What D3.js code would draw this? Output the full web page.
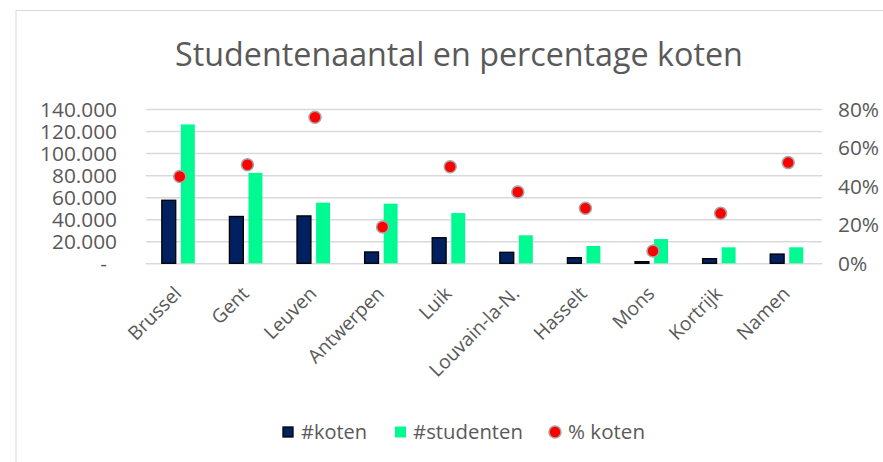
<!DOCTYPE html>
<html><head><meta charset="utf-8">
<script src="https://cdn.jsdelivr.net/npm/d3@7"></script>
<style>body{margin:0;background:#fff}svg{display:block}text{font-family:"Open Sans","Noto Sans",sans-serif;fill:#595959}</style>
</head><body><svg id="c" width="883" height="462"></svg>
<script>
const categories = ["Brussel","Gent","Leuven","Antwerpen","Luik","Louvain-la-N.","Hasselt","Mons","Kortrijk","Namen"];
const koten = [57200, 42500, 43000, 10300, 23200, 10000, 5100, 1500, 4200, 8400];
const studenten = [126000, 82000, 55000, 54100, 45600, 25400, 15700, 22000, 14500, 14500];
const pctKoten = [0.45, 0.511, 0.757, 0.188, 0.501, 0.37, 0.285, 0.064, 0.259, 0.522];
const leftTicks = [0, 20000, 40000, 60000, 80000, 100000, 120000, 140000];
const rightTicks = [0, 0.2, 0.4, 0.6, 0.8];
const seriesNames = ["#koten", "#studenten", "% koten"];

const svg = d3.select("#c");
const W = 883, H = 462;
const plot = {l: 146, r: 822, t: 109, b: 263.3};

// frame
svg.append("rect").attr("x", 16).attr("y", 10.5).attr("width", W + 10).attr("height", H + 10)
  .attr("fill", "none").attr("stroke", "#d9d9d9").attr("stroke-width", 1);

function fit(sel, target) {
  let fs = parseFloat(sel.attr("font-size"));
  const w = sel.node().getComputedTextLength();
  sel.attr("font-size", fs * target / w);
}

const x = d3.scaleBand().domain(categories).range([plot.l, plot.r]).padding(0);
const x1 = d3.scaleBand().domain(["koten", "studenten"]).range([-18, 15]).paddingInner(0.27);
const y = d3.scaleLinear().domain([0, 140000]).range([plot.b, plot.t]);
const y2 = d3.scaleLinear().domain([0, 0.8]).range([plot.b, plot.t]);

// title
const title = svg.append("text").attr("x", 459).attr("y", 66).attr("text-anchor", "middle")
  .attr("font-size", 30).text("Studentenaantal en percentage koten");
fit(title, 568);

// gridlines
const gAxisL = svg.append("g").attr("transform", `translate(${plot.l},0)`)
  .call(d3.axisLeft(y).tickValues(leftTicks).tickSize(-(plot.r - plot.l)).tickPadding(29)
    .tickFormat(d => d === 0 ? "-" : d3.format(",")(d).replace(/,/g, ".")));
gAxisL.select(".domain").remove();
gAxisL.selectAll(".tick line").attr("stroke", "#d9d9d9").attr("stroke-width", 1.5);
gAxisL.selectAll(".tick text").attr("font-family", null).attr("font-size", 20).attr("fill", "#595959");
const t140 = gAxisL.selectAll(".tick text").filter(d => d === 140000);
const base = 20;
const w140 = t140.node().getComputedTextLength();
const fsL = base * 77 / w140;
gAxisL.selectAll(".tick text").attr("font-size", fsL).attr("dy", "0.34em");
gAxisL.selectAll(".tick text").filter(d => d === 0).attr("dx", -10);

const gAxisR = svg.append("g").attr("transform", `translate(${plot.r},0)`)
  .call(d3.axisRight(y2).tickValues(rightTicks).tickSize(0).tickPadding(16).tickFormat(d3.format(".0%")));
gAxisR.select(".domain").remove();
gAxisR.selectAll(".tick text").attr("font-family", null).attr("font-size", fsL).attr("fill", "#595959").attr("dy", "0.34em");

// bars
const g = svg.append("g");
g.selectAll(".k").data(categories).join("rect")
  .attr("x", (d) => x(d) + x.bandwidth() / 2 + x1("koten"))
  .attr("y", (d, i) => y(koten[i]))
  .attr("width", x1.bandwidth())
  .attr("height", (d, i) => y(0) - y(koten[i]))
  .attr("fill", "#002060").attr("stroke", "#000").attr("stroke-width", 1.3);
g.selectAll(".s").data(categories).join("rect")
  .attr("x", (d) => x(d) + x.bandwidth() / 2 + x1("studenten"))
  .attr("y", (d, i) => y(studenten[i]))
  .attr("width", x1.bandwidth())
  .attr("height", (d, i) => y(0) - y(studenten[i]))
  .attr("fill", "#00FA92");
g.selectAll("circle").data(categories).join("circle")
  .attr("cx", d => x(d) + x.bandwidth() / 2)
  .attr("cy", (d, i) => y2(pctKoten[i]))
  .attr("r", 6).attr("fill", "#FF0000").attr("stroke", "#a6a6a6").attr("stroke-width", 1.5);

// x labels
const gx = svg.append("g");
const xl = gx.selectAll("text").data(categories).join("text")
  .attr("transform", d => `translate(${x(d) + x.bandwidth() / 2 - 7},${285}) rotate(-45)`)
  .attr("text-anchor", "end").attr("dy", "0.72em").attr("font-size", fsL).text(d => d);
const wb = xl.filter(d => d === "Brussel").node().getComputedTextLength();
xl.attr("font-size", fsL * 66 / wb);

// legend
const leg = svg.append("g");
leg.append("rect").attr("x", 283).attr("y", 427).attr("width", 10).attr("height", 10)
  .attr("fill", "#002060").attr("stroke", "#000").attr("stroke-width", 1.3);
const l1 = leg.append("text").attr("x", 301).attr("y", 439).attr("font-size", fsL).text(seriesNames[0]);
fit(l1, 66);
leg.append("rect").attr("x", 395).attr("y", 426.5).attr("width", 11).attr("height", 11).attr("fill", "#00FA92");
const l2 = leg.append("text").attr("x", 413).attr("y", 439).attr("font-size", fsL).text(seriesNames[1]);
fit(l2, 110);
leg.append("circle").attr("cx", 555).attr("cy", 432).attr("r", 6).attr("fill", "#FF0000").attr("stroke", "#a6a6a6").attr("stroke-width", 1.5);
const l3 = leg.append("text").attr("x", 568).attr("y", 439).attr("font-size", fsL).text(seriesNames[2]);
fit(l3, 77);
</script></body></html>
